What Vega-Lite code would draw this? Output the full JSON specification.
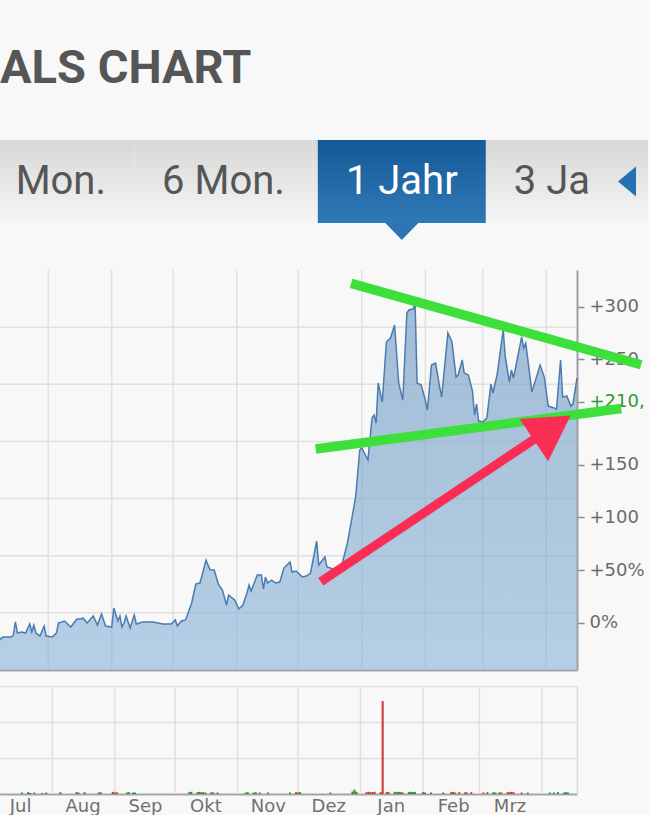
{
  "$schema": "https://vega.github.io/schema/vega-lite/v6.json",
  "background": "#f8f8f8",
  "padding": {"top": 45, "left": -4, "right": 0, "bottom": 0},
  "title": {"text": "ALS CHART", "anchor": "start", "frame": "bounds", "font": "Roboto", "fontSize": 47, "fontWeight": 700, "color": "#565656", "baseline": "top", "offset": 47, "dx": 4},
  "config": {"view": {"stroke": null}},
  "datasets": {
    "tabs": [
      {"tab": "Mon.", "active": false},
      {"tab": "6 Mon.", "active": false},
      {"tab": "1 Jahr", "active": true},
      {"tab": "3 Jahre", "active": false}
    ],
    "months": [
      {"date": "2020-08-01"}, {"date": "2020-09-01"}, {"date": "2020-10-01"}, {"date": "2020-11-01"},
      {"date": "2020-12-01"}, {"date": "2021-01-01"}, {"date": "2021-02-01"}, {"date": "2021-03-01"}, {"date": "2021-04-01"}
    ],
    "gridY": [{"pct": 280.6}, {"pct": 226.4}, {"pct": 172.1}, {"pct": 117.9}, {"pct": 63.6}, {"pct": 9.4}],
    "price": [
      {"date": "2020-07-08", "pct": -16.4}, {"date": "2020-07-10", "pct": -13.6}, {"date": "2020-07-14", "pct": -13.6},
      {"date": "2020-07-15", "pct": -11.7}, {"date": "2020-07-16", "pct": 0.7}, {"date": "2020-07-17", "pct": -9.8},
      {"date": "2020-07-19", "pct": -8.8}, {"date": "2020-07-21", "pct": -9.8}, {"date": "2020-07-23", "pct": -1.2},
      {"date": "2020-07-24", "pct": -8.8}, {"date": "2020-07-25", "pct": -2.2}, {"date": "2020-07-26", "pct": -9.8},
      {"date": "2020-07-28", "pct": -12.6}, {"date": "2020-07-30", "pct": -3.1}, {"date": "2020-07-31", "pct": -12.6},
      {"date": "2020-08-03", "pct": -13.6}, {"date": "2020-08-05", "pct": -9.8}, {"date": "2020-08-06", "pct": -0.3},
      {"date": "2020-08-09", "pct": 1.6}, {"date": "2020-08-10", "pct": -0.3}, {"date": "2020-08-12", "pct": -4.1},
      {"date": "2020-08-15", "pct": 3.5}, {"date": "2020-08-17", "pct": 3.5}, {"date": "2020-08-18", "pct": 4.5},
      {"date": "2020-08-20", "pct": -0.3}, {"date": "2020-08-23", "pct": 6.4}, {"date": "2020-08-25", "pct": -2.2},
      {"date": "2020-08-27", "pct": 8.3}, {"date": "2020-08-29", "pct": -3.1}, {"date": "2020-09-01", "pct": -4.1},
      {"date": "2020-09-02", "pct": 13.9}, {"date": "2020-09-04", "pct": 1.6}, {"date": "2020-09-05", "pct": 6.4},
      {"date": "2020-09-06", "pct": -4.1}, {"date": "2020-09-07", "pct": -0.3}, {"date": "2020-09-08", "pct": 6.4},
      {"date": "2020-09-10", "pct": -5.0}, {"date": "2020-09-12", "pct": 7.3}, {"date": "2020-09-13", "pct": -1.2},
      {"date": "2020-09-16", "pct": 0.7}, {"date": "2020-09-21", "pct": 0.7}, {"date": "2020-09-26", "pct": -1.2},
      {"date": "2020-09-30", "pct": -1.2}, {"date": "2020-10-02", "pct": 2.6}, {"date": "2020-10-03", "pct": -3.1},
      {"date": "2020-10-05", "pct": 1.6}, {"date": "2020-10-07", "pct": 2.6}, {"date": "2020-10-10", "pct": 18.7},
      {"date": "2020-10-12", "pct": 36.7}, {"date": "2020-10-14", "pct": 37.7}, {"date": "2020-10-15", "pct": 44.3},
      {"date": "2020-10-17", "pct": 59.5}, {"date": "2020-10-19", "pct": 50.0}, {"date": "2020-10-21", "pct": 50.0},
      {"date": "2020-10-23", "pct": 36.7}, {"date": "2020-10-25", "pct": 31.0}, {"date": "2020-10-27", "pct": 16.8},
      {"date": "2020-10-28", "pct": 26.3}, {"date": "2020-10-31", "pct": 21.5}, {"date": "2020-11-02", "pct": 13.0},
      {"date": "2020-11-04", "pct": 16.8}, {"date": "2020-11-06", "pct": 28.2}, {"date": "2020-11-07", "pct": 35.8},
      {"date": "2020-11-08", "pct": 30.1}, {"date": "2020-11-11", "pct": 45.3}, {"date": "2020-11-13", "pct": 45.3},
      {"date": "2020-11-14", "pct": 32.0}, {"date": "2020-11-15", "pct": 43.4}, {"date": "2020-11-16", "pct": 37.7},
      {"date": "2020-11-18", "pct": 40.5}, {"date": "2020-11-20", "pct": 37.7}, {"date": "2020-11-22", "pct": 38.6},
      {"date": "2020-11-24", "pct": 51.9}, {"date": "2020-11-27", "pct": 57.6}, {"date": "2020-11-28", "pct": 48.1},
      {"date": "2020-11-30", "pct": 49.1}, {"date": "2020-12-03", "pct": 43.4}, {"date": "2020-12-05", "pct": 44.3},
      {"date": "2020-12-07", "pct": 47.2}, {"date": "2020-12-10", "pct": 77.6}, {"date": "2020-12-11", "pct": 54.8},
      {"date": "2020-12-14", "pct": 62.4}, {"date": "2020-12-15", "pct": 52.9}, {"date": "2020-12-18", "pct": 51.0},
      {"date": "2020-12-22", "pct": 52.9}, {"date": "2020-12-25", "pct": 75.7}, {"date": "2020-12-27", "pct": 97.5},
      {"date": "2020-12-29", "pct": 119.4}, {"date": "2020-12-31", "pct": 164.0}, {"date": "2021-01-01", "pct": 165.9},
      {"date": "2021-01-04", "pct": 154.5}, {"date": "2021-01-06", "pct": 194.3}, {"date": "2021-01-07", "pct": 197.2},
      {"date": "2021-01-08", "pct": 189.6}, {"date": "2021-01-09", "pct": 227.6}, {"date": "2021-01-11", "pct": 209.5},
      {"date": "2021-01-13", "pct": 266.5}, {"date": "2021-01-15", "pct": 270.3}, {"date": "2021-01-17", "pct": 282.6},
      {"date": "2021-01-19", "pct": 227.6}, {"date": "2021-01-21", "pct": 211.4}, {"date": "2021-01-23", "pct": 294.0},
      {"date": "2021-01-24", "pct": 296.9}, {"date": "2021-01-26", "pct": 297.8}, {"date": "2021-01-27", "pct": 302.6},
      {"date": "2021-01-28", "pct": 227.6}, {"date": "2021-01-30", "pct": 225.7}, {"date": "2021-02-01", "pct": 211.4},
      {"date": "2021-02-02", "pct": 201.9}, {"date": "2021-02-04", "pct": 244.6}, {"date": "2021-02-06", "pct": 246.5},
      {"date": "2021-02-08", "pct": 223.8}, {"date": "2021-02-09", "pct": 214.3}, {"date": "2021-02-12", "pct": 275.1},
      {"date": "2021-02-14", "pct": 266.5}, {"date": "2021-02-16", "pct": 233.3}, {"date": "2021-02-17", "pct": 235.2},
      {"date": "2021-02-19", "pct": 249.5}, {"date": "2021-02-20", "pct": 237.0}, {"date": "2021-02-22", "pct": 235.2},
      {"date": "2021-02-24", "pct": 220.0}, {"date": "2021-02-25", "pct": 197.2}, {"date": "2021-02-26", "pct": 207.6},
      {"date": "2021-02-27", "pct": 191.5}, {"date": "2021-03-01", "pct": 190.5}, {"date": "2021-03-03", "pct": 194.3},
      {"date": "2021-03-05", "pct": 226.6}, {"date": "2021-03-06", "pct": 218.1}, {"date": "2021-03-08", "pct": 235.2},
      {"date": "2021-03-11", "pct": 277.9}, {"date": "2021-03-12", "pct": 252.3}, {"date": "2021-03-14", "pct": 228.5},
      {"date": "2021-03-15", "pct": 239.9}, {"date": "2021-03-16", "pct": 232.3}, {"date": "2021-03-20", "pct": 271.3},
      {"date": "2021-03-21", "pct": 260.8}, {"date": "2021-03-22", "pct": 265.5}, {"date": "2021-03-25", "pct": 219.0},
      {"date": "2021-03-29", "pct": 244.6}, {"date": "2021-03-31", "pct": 233.3}, {"date": "2021-04-02", "pct": 205.7},
      {"date": "2021-04-05", "pct": 203.8}, {"date": "2021-04-06", "pct": 202.8}, {"date": "2021-04-08", "pct": 249.5},
      {"date": "2021-04-09", "pct": 214.3}, {"date": "2021-04-11", "pct": 215.3}, {"date": "2021-04-13", "pct": 205.7},
      {"date": "2021-04-14", "pct": 207.6}, {"date": "2021-04-16", "pct": 232.3}
    ],
    "trend": [
      {"line": "upper", "date": "2020-12-26T19:00:00Z", "pct": 322.2},
      {"line": "upper", "date": "2021-05-17T07:00:00Z", "pct": 244.9},
      {"line": "lower", "date": "2020-12-09T12:00:00Z", "pct": 164.9},
      {"line": "lower", "date": "2021-05-07T14:00:00Z", "pct": 203.4}
    ],
    "arrow": [
      {"part": "shaft", "date": "2020-12-12T00:00:00Z", "pct": 38.9},
      {"part": "shaft", "date": "2021-03-28T12:00:00Z", "pct": 177.3},
      {"part": "head", "date": "2021-04-03T22:00:00Z", "pct": 185.0}
    ],
    "vol": [
      {"date": "2020-07-17", "vol": 0.04, "dir": "up"}, {"date": "2020-07-20", "vol": 0.05, "dir": "up"},
      {"date": "2020-07-21", "vol": 0.03, "dir": "up"}, {"date": "2020-07-23", "vol": 0.04, "dir": "up"},
      {"date": "2020-07-27", "vol": 0.03, "dir": "up"}, {"date": "2020-07-29", "vol": 0.04, "dir": "up"},
      {"date": "2020-08-05", "vol": 0.05, "dir": "down"}, {"date": "2020-08-13", "vol": 0.05, "dir": "down"},
      {"date": "2020-08-14", "vol": 0.04, "dir": "up"}, {"date": "2020-08-17", "vol": 0.05, "dir": "down"},
      {"date": "2020-08-24", "vol": 0.04, "dir": "down"}, {"date": "2020-08-25", "vol": 0.05, "dir": "up"},
      {"date": "2020-08-31", "vol": 0.06, "dir": "down"}, {"date": "2020-09-01", "vol": 0.04, "dir": "up"},
      {"date": "2020-09-02", "vol": 0.05, "dir": "down"}, {"date": "2020-09-07", "vol": 0.04, "dir": "up"},
      {"date": "2020-09-08", "vol": 0.05, "dir": "up"}, {"date": "2020-09-10", "vol": 0.04, "dir": "up"},
      {"date": "2020-09-11", "vol": 0.04, "dir": "up"}, {"date": "2020-10-08", "vol": 0.05, "dir": "up"},
      {"date": "2020-10-09", "vol": 0.06, "dir": "up"}, {"date": "2020-10-12", "vol": 0.05, "dir": "up"},
      {"date": "2020-10-13", "vol": 0.06, "dir": "up"}, {"date": "2020-10-14", "vol": 0.05, "dir": "down"},
      {"date": "2020-10-15", "vol": 0.05, "dir": "up"}, {"date": "2020-10-16", "vol": 0.04, "dir": "up"},
      {"date": "2020-10-19", "vol": 0.05, "dir": "down"}, {"date": "2020-10-20", "vol": 0.04, "dir": "up"},
      {"date": "2020-10-22", "vol": 0.04, "dir": "up"}, {"date": "2020-11-05", "vol": 0.04, "dir": "up"},
      {"date": "2020-11-06", "vol": 0.05, "dir": "up"}, {"date": "2020-11-09", "vol": 0.04, "dir": "up"},
      {"date": "2020-11-10", "vol": 0.05, "dir": "up"}, {"date": "2020-11-12", "vol": 0.04, "dir": "up"},
      {"date": "2020-11-16", "vol": 0.04, "dir": "up"}, {"date": "2020-11-27", "vol": 0.04, "dir": "up"},
      {"date": "2020-11-30", "vol": 0.05, "dir": "down"}, {"date": "2020-12-01", "vol": 0.04, "dir": "down"},
      {"date": "2020-12-02", "vol": 0.05, "dir": "up"}, {"date": "2020-12-17", "vol": 0.04, "dir": "up"},
      {"date": "2020-12-28", "vol": 0.07, "dir": "up"}, {"date": "2020-12-29", "vol": 0.12, "dir": "up"},
      {"date": "2020-12-30", "vol": 0.06, "dir": "up"}, {"date": "2021-01-04", "vol": 0.05, "dir": "down"},
      {"date": "2021-01-05", "vol": 0.06, "dir": "down"}, {"date": "2021-01-06", "vol": 0.05, "dir": "down"},
      {"date": "2021-01-07", "vol": 0.05, "dir": "down"}, {"date": "2021-01-08", "vol": 0.06, "dir": "down"},
      {"date": "2021-01-11", "vol": 0.05, "dir": "down"}, {"date": "2021-01-12", "vol": 2.58, "dir": "down"},
      {"date": "2021-01-14", "vol": 0.06, "dir": "down"}, {"date": "2021-01-15", "vol": 0.05, "dir": "up"},
      {"date": "2021-01-18", "vol": 0.06, "dir": "up"}, {"date": "2021-01-19", "vol": 0.05, "dir": "up"},
      {"date": "2021-01-20", "vol": 0.06, "dir": "up"}, {"date": "2021-01-21", "vol": 0.05, "dir": "up"},
      {"date": "2021-01-22", "vol": 0.04, "dir": "down"}, {"date": "2021-01-25", "vol": 0.05, "dir": "up"},
      {"date": "2021-01-26", "vol": 0.06, "dir": "up"}, {"date": "2021-01-27", "vol": 0.05, "dir": "up"},
      {"date": "2021-01-28", "vol": 0.06, "dir": "up"}, {"date": "2021-02-01", "vol": 0.05, "dir": "up"},
      {"date": "2021-02-02", "vol": 0.04, "dir": "down"}, {"date": "2021-02-05", "vol": 0.04, "dir": "up"},
      {"date": "2021-02-11", "vol": 0.04, "dir": "up"}, {"date": "2021-02-15", "vol": 0.05, "dir": "down"},
      {"date": "2021-02-16", "vol": 0.06, "dir": "down"}, {"date": "2021-02-17", "vol": 0.04, "dir": "up"},
      {"date": "2021-02-19", "vol": 0.05, "dir": "down"}, {"date": "2021-02-22", "vol": 0.05, "dir": "down"},
      {"date": "2021-02-23", "vol": 0.04, "dir": "up"}, {"date": "2021-02-25", "vol": 0.05, "dir": "down"},
      {"date": "2021-03-03", "vol": 0.04, "dir": "down"}, {"date": "2021-03-05", "vol": 0.05, "dir": "up"},
      {"date": "2021-03-08", "vol": 0.05, "dir": "up"}, {"date": "2021-03-09", "vol": 0.04, "dir": "up"},
      {"date": "2021-03-11", "vol": 0.05, "dir": "up"}, {"date": "2021-03-12", "vol": 0.04, "dir": "down"},
      {"date": "2021-03-15", "vol": 0.05, "dir": "up"}, {"date": "2021-03-16", "vol": 0.05, "dir": "down"},
      {"date": "2021-03-17", "vol": 0.06, "dir": "down"}, {"date": "2021-03-18", "vol": 0.05, "dir": "down"},
      {"date": "2021-03-22", "vol": 0.04, "dir": "down"}, {"date": "2021-03-25", "vol": 0.04, "dir": "up"},
      {"date": "2021-04-05", "vol": 0.04, "dir": "up"}, {"date": "2021-04-07", "vol": 0.04, "dir": "up"},
      {"date": "2021-04-09", "vol": 0.05, "dir": "up"}, {"date": "2021-04-12", "vol": 0.04, "dir": "up"},
      {"date": "2021-04-13", "vol": 0.05, "dir": "up"}, {"date": "2021-04-14", "vol": 0.04, "dir": "up"}
    ]
  },
  "spacing": 23,
  "vconcat": [
    {
      "width": 649,
      "height": 83,
      "data": {"name": "tabs"},
      "encoding": {
        "x": {"field": "tab", "type": "nominal", "sort": null, "axis": null,
              "scale": {"domain": ["Mon.", "6 Mon.", "1 Jahr", "3 Jahre"], "range": [-42.95, 670.25], "paddingInner": 0, "paddingOuter": 0}}
      },
      "layer": [
        {"mark": {"type": "bar", "clip": true, "color": {"gradient": "linear", "x1": 0, "y1": 0, "x2": 0, "y2": 1, "stops": [{"offset": 0, "color": "#d7d7d7"}, {"offset": 1, "color": "#f6f6f6"}]}}},
        {"transform": [{"filter": "datum.active"}],
         "mark": {"type": "bar", "clip": true, "width": {"band": 0.942}, "color": {"gradient": "linear", "x1": 0, "y1": 0, "x2": 0, "y2": 1, "stops": [{"offset": 0, "color": "#155996"}, {"offset": 1, "color": "#2f79b7"}]}}},
        {"transform": [{"filter": "datum.active"}],
         "mark": {"type": "point", "filled": true, "opacity": 1, "size": 1089, "shape": "M -1 2.52 L 1 2.52 L 0 3.55 Z", "color": "#2d76b3"}},
        {"transform": [{"filter": "datum.tab != 'Mon.'"}],
         "mark": {"type": "text", "clip": true, "font": "Roboto", "fontSize": 40, "baseline": "middle"},
         "encoding": {"text": {"field": "tab"}, "color": {"condition": {"test": "datum.active", "value": "#ffffff"}, "value": "#565656"}}},
        {"transform": [{"filter": "datum.tab == 'Mon.'"}],
         "mark": {"type": "text", "clip": true, "font": "Roboto", "fontSize": 40, "baseline": "middle", "align": "right", "xOffset": 60.8, "color": "#565656"},
         "encoding": {"text": {"field": "tab"}}},
        {"transform": [{"filter": "datum.tab == '3 Jahre'"}],
         "mark": {"type": "point", "clip": true, "filled": true, "opacity": 1, "size": 3204, "xOffset": 39.2, "shape": "M -1 -1.47 L 1 -1.47 L 1 1.47 L -1 1.47 Z", "color": {"gradient": "linear", "x1": 0, "y1": 0, "x2": 0, "y2": 1, "stops": [{"offset": 0, "color": "#d7d7d7"}, {"offset": 1, "color": "#f6f6f6"}]}}},
        {"transform": [{"filter": "datum.tab == '3 Jahre'"}],
         "mark": {"type": "point", "clip": true, "filled": true, "opacity": 1, "size": 900, "xOffset": 46.9, "shape": "M 0.6 -1 L -0.6 0 L 0.6 1 Z", "color": "#2571b2"}}
      ]
    },
    {
      "spacing": 14,
      "vconcat": [
        {
          "width": 578,
          "height": 400,
          "layer": [
            {"data": {"name": "gridY"},
             "mark": {"type": "rule", "color": "#e0e0e0", "strokeWidth": 1.5},
             "encoding": {"y": {"field": "pct", "type": "quantitative", "scale": {"domain": [-44.9, 334.9], "nice": false, "zero": false},
               "axis": {"orient": "right", "values": [0, 50, 100, 150, 210, 250, 300], "labelExpr": "datum.value == 0 ? '0%' : datum.value == 50 ? '+50%' : datum.value == 210 ? '+210,' : '+' + datum.value", "labelColor": {"condition": {"test": "datum.value == 210", "value": "#2f9a2f"}, "value": "#6b6b6b"}, "labelFont": "DejaVu Sans", "labelFontSize": 18, "labelPadding": 5, "tickSize": 7, "tickColor": "#8a8a8a", "tickWidth": 1.5, "domainColor": "#a0a0a0", "domainWidth": 2, "grid": false, "title": null}}}},
            {"data": {"name": "months"},
             "mark": {"type": "rule", "color": "#e0e0e0", "strokeWidth": 1.5},
             "encoding": {"x": {"field": "date", "type": "temporal", "scale": {"domain": [{"year": 2020, "month": 7, "date": 8, "utc": true}, {"year": 2021, "month": 4, "date": 16, "utc": true}], "nice": false},
               "axis": {"labels": false, "ticks": false, "grid": false, "domain": true, "domainColor": "#a5a5a5", "domainWidth": 2, "title": null}}}},
            {"data": {"name": "price"},
             "mark": {"type": "area", "opacity": 0.6, "color": {"gradient": "linear", "x1": 0, "y1": 0, "x2": 0, "y2": 1, "stops": [{"offset": 0, "color": "#6a95bf"}, {"offset": 1, "color": "#88b3d9"}]}},
             "encoding": {
               "x": {"field": "date", "type": "temporal"},
               "y": {"field": "pct", "type": "quantitative"},
               "y2": {"datum": -44.9}}},
            {"data": {"name": "price"},
             "mark": {"type": "line", "color": "#4a7cae", "strokeWidth": 1.5},
             "encoding": {"x": {"field": "date", "type": "temporal"}, "y": {"field": "pct", "type": "quantitative"}}},
            {"data": {"name": "trend"},
             "mark": {"type": "line", "color": "#3de03a", "strokeWidth": 9.5, "strokeCap": "butt"},
             "encoding": {"x": {"field": "date", "type": "temporal"}, "y": {"field": "pct", "type": "quantitative"}, "detail": {"field": "line"}}},
            {"data": {"name": "arrow"},
             "transform": [{"filter": "datum.part == 'shaft'"}],
             "mark": {"type": "line", "color": "#fa2d55", "strokeWidth": 9, "strokeCap": "butt"},
             "encoding": {"x": {"field": "date", "type": "temporal"}, "y": {"field": "pct", "type": "quantitative"}}},
            {"data": {"name": "arrow"},
             "transform": [{"filter": "datum.part == 'head'"}],
             "mark": {"type": "point", "shape": "triangle-up", "filled": true, "opacity": 1, "size": 2601, "angle": 56, "color": "#fa2d55"},
             "encoding": {"x": {"field": "date", "type": "temporal"}, "y": {"field": "pct", "type": "quantitative"}}}
          ]
        },
        {
          "width": 578,
          "height": 108,
          "layer": [
            {"data": {"name": "months"},
             "mark": {"type": "rule", "color": "#e0e0e0", "strokeWidth": 1.5},
             "encoding": {"x": {"field": "date", "type": "temporal", "scale": {"domain": [{"year": 2020, "month": 7, "date": 8, "utc": true}, {"year": 2021, "month": 4, "date": 16, "utc": true}], "nice": false},
               "axis": {"values": [{"year": 2020, "month": 7, "date": 16, "utc": true}, {"year": 2020, "month": 8, "date": 16, "utc": true}, {"year": 2020, "month": 9, "date": 16, "utc": true}, {"year": 2020, "month": 10, "date": 16, "utc": true}, {"year": 2020, "month": 11, "date": 16, "utc": true}, {"year": 2020, "month": 12, "date": 16, "utc": true}, {"year": 2021, "month": 1, "date": 16, "utc": true}, {"year": 2021, "month": 2, "date": 16, "utc": true}, {"year": 2021, "month": 3, "date": 16, "utc": true}],
                 "labelExpr": "['Jan','Feb','Mrz','Apr','Mai','Jun','Jul','Aug','Sep','Okt','Nov','Dez'][utcmonth(datum.value)]",
                 "labelFlush": false, "ticks": false, "grid": false, "domain": true, "domainColor": "#a5a5a5", "domainWidth": 2, "labelPadding": 3, "labelFont": "DejaVu Sans", "labelFontSize": 18, "labelColor": "#707070", "title": null}}}},
            {"data": {"name": "vol"},
             "mark": {"type": "bar", "size": 2},
             "encoding": {
               "x": {"field": "date", "type": "temporal"},
               "y": {"field": "vol", "type": "quantitative", "scale": {"domain": [0, 3], "nice": false},
                 "axis": {"orient": "right", "values": [1, 2, 3], "grid": true, "gridColor": "#e0e0e0", "gridWidth": 1.5, "labels": false, "ticks": false, "domain": true, "domainColor": "#dcdcdc", "domainWidth": 1.5, "title": null}},
               "color": {"field": "dir", "type": "nominal", "scale": {"domain": ["up", "down"], "range": ["#2a8a2a", "#cc3333"]}, "legend": null}}}
          ]
        }
      ]
    }
  ]
}
